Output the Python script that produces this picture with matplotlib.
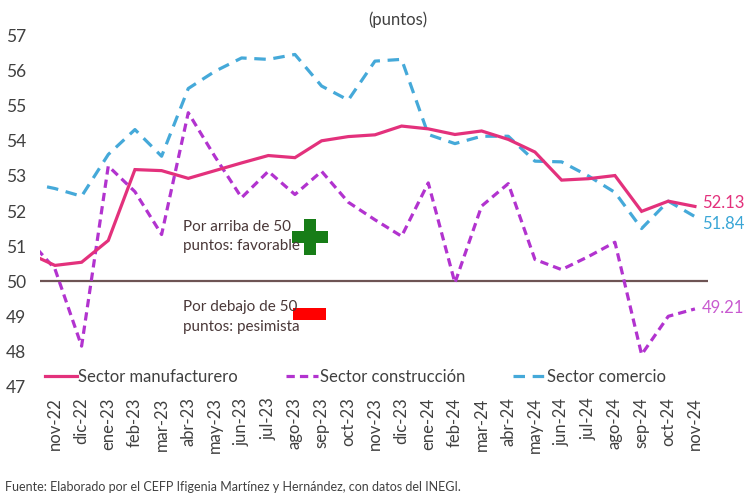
import matplotlib
matplotlib.use("Agg")
import matplotlib.pyplot as plt
from matplotlib.patches import Rectangle

plt.rcParams['font.family'] = ['Lato', 'DejaVu Sans']

# first category (oct-22) only appears as the clipped segment at the left edge
categories = ['oct-22', 'nov-22', 'dic-22', 'ene-23', 'feb-23', 'mar-23', 'abr-23', 'may-23',
              'jun-23', 'jul-23', 'ago-23', 'sep-23', 'oct-23', 'nov-23', 'dic-23',
              'ene-24', 'feb-24', 'mar-24', 'abr-24', 'may-24', 'jun-24', 'jul-24',
              'ago-24', 'sep-24', 'oct-24', 'nov-24']

manufacturero = [50.80, 50.45, 50.54, 51.16, 53.18, 53.15, 52.93, 53.15, 53.37, 53.58, 53.52,
                 54.00, 54.12, 54.17, 54.42, 54.34, 54.18, 54.28, 54.04, 53.68, 52.88,
                 52.92, 53.01, 51.99, 52.28, 52.13]
construccion = [51.20, 50.35, 48.15, 53.28, 52.55, 51.33, 54.80, 53.55, 52.38, 53.13, 52.47,
                53.13, 52.25, 51.75, 51.28, 52.80, 49.95, 52.14, 52.78, 50.62, 50.33,
                50.70, 51.11, 47.91, 49.00, 49.21]
comercio = [52.80, 52.64, 52.42, 53.61, 54.32, 53.56, 55.49, 55.98, 56.36, 56.32, 56.46,
            55.56, 55.16, 56.27, 56.32, 54.18, 53.92, 54.13, 54.13, 53.42, 53.40,
            53.00, 52.53, 51.50, 52.28, 51.84]

yticks = [47, 48, 49, 50, 51, 52, 53, 54, 55, 56, 57]

c_man = '#E3317C'
c_con = '#B233CF'
c_com = '#45A9D9'
c_txt = '#404040'
c_note = '#4A3838'

fig = plt.figure(figsize=(7.52, 4.95), dpi=100)
ax = fig.add_axes([40 / 752, 1 - 386.5 / 495, 668 / 752, 351 / 495])

x = list(range(len(categories)))
ax.axhline(50, color='#6E5454', lw=1.6, zorder=1)
ax.plot(x, manufacturero, color=c_man, lw=2.3, solid_joinstyle='miter',
        label='Sector manufacturero', zorder=3)
ax.plot(x, construccion, color=c_con, lw=2.3, dashes=(2.6, 1.6),
        label='Sector construcción', zorder=2)
ax.plot(x, comercio, color=c_com, lw=2.3, dashes=(3.6, 2.4),
        label='Sector comercio', zorder=2)

ax.set_xlim(0.44, 25.49)
ax.set_ylim(47, 57)
ax.set_yticks(yticks)
ax.set_yticklabels([str(v) for v in yticks], fontsize=12.5, color=c_txt)
ax.set_xticks(x[1:])
ax.set_xticklabels(categories[1:], rotation=90, fontsize=12, color=c_txt)
ax.tick_params(axis='both', length=0)
ax.tick_params(axis='x', pad=8)
ax.tick_params(axis='y', pad=10)
for s in ax.spines.values():
    s.set_visible(False)

# end labels
last = len(categories) - 1
ax.text(last + 0.27, manufacturero[-1] + 0.1, f"{manufacturero[-1]:.2f}", color=c_man,
        fontsize=12, va='center', ha='left', clip_on=False)
ax.text(last + 0.27, comercio[-1] - 0.2, f"{comercio[-1]:.2f}", color='#3AA6D6',
        fontsize=12, va='center', ha='left', clip_on=False)
ax.text(last + 0.27, construccion[-1] + 0.03, f"{construccion[-1]:.2f}", color='#C85AD0',
        fontsize=12, va='center', ha='left', clip_on=False)

# notes
ax.text(5.8, 51.28, "Por arriba de 50\npuntos: favorable", fontsize=11, color=c_note,
        va='center', ha='left', linespacing=1.5)
ax.plot([10.55], [51.27], marker='P', markersize=26, color='#177D17', markeredgewidth=0,
        clip_on=False)
ax.text(5.8, 48.98, "Por debajo de 50\npuntos: pesimista", fontsize=11, color=c_note,
        va='center', ha='left', linespacing=1.5)
ax.add_patch(Rectangle((9.92, 48.9), 1.24, 0.35, color='#FF0000', lw=0))

leg = ax.legend(loc='center left', bbox_to_anchor=(0.0, 0.028), ncol=3, frameon=False,
                fontsize=12, handlelength=1.9, handletextpad=0.1, columnspacing=2.9,
                borderaxespad=0, borderpad=0.3)
for t in leg.get_texts():
    t.set_color(c_txt)

fig.text(398 / 752, 1 - 20 / 495, "(puntos)", fontsize=12, color=c_txt, ha='center', va='center')
fig.text(5 / 752, 1 - 487 / 495, "Fuente: Elaborado por el CEFP Ifigenia Martínez y Hernández, con datos del INEGI.",
         fontsize=9, color=c_txt, ha='left', va='center')

fig.savefig('out.png', dpi=100, facecolor='white')
